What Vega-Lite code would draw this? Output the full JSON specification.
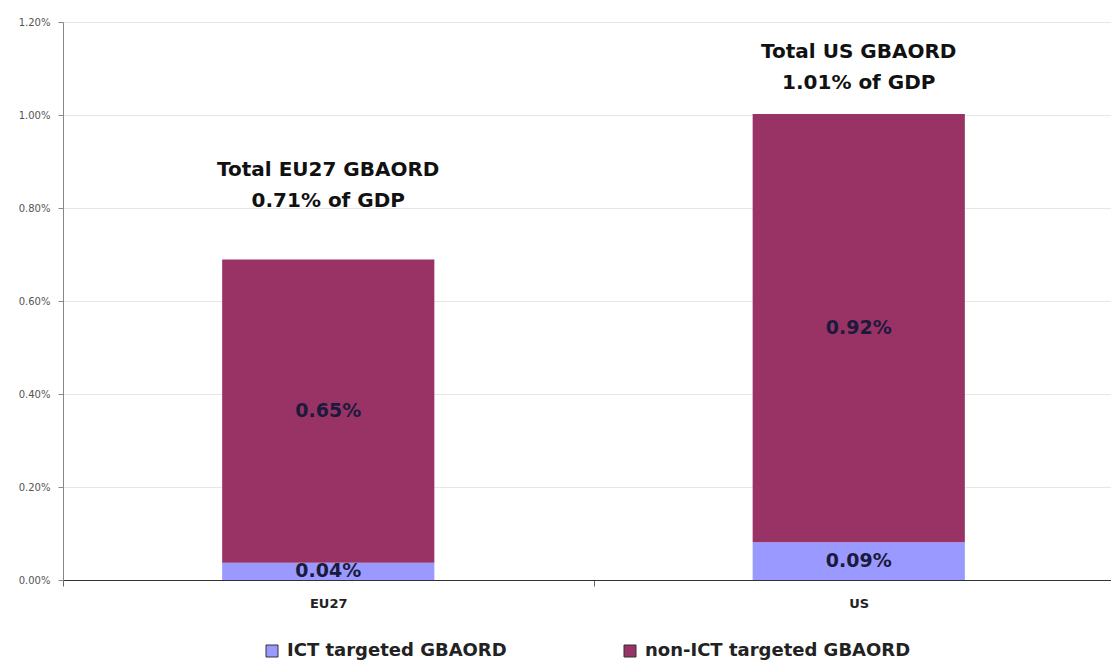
{
  "$schema": "https://vega.github.io/schema/vega-lite/v6.json",
  "width": 1048,
  "height": 558,
  "autosize": {"type": "none"},
  "padding": {"left": 63, "top": 22, "right": 0, "bottom": 82},
  "background": "white",
  "config": {
    "font": "DejaVu Sans",
    "view": {"stroke": null}
  },
  "datasets": {
    "bars": [
      {"region": "EU27", "type": "ICT targeted GBAORD", "value": 0.00037, "label": "0.04%", "order": 1},
      {"region": "EU27", "type": "non-ICT targeted GBAORD", "value": 0.00652, "label": "0.65%", "order": 2},
      {"region": "US", "type": "ICT targeted GBAORD", "value": 0.00081, "label": "0.09%", "order": 1},
      {"region": "US", "type": "non-ICT targeted GBAORD", "value": 0.00921, "label": "0.92%", "order": 2}
    ],
    "totals": [
      {"region": "EU27", "pos": 0.00882, "text": ["Total EU27 GBAORD", "0.71% of GDP"]},
      {"region": "US", "pos": 0.01135, "text": ["Total US GBAORD", "1.01% of GDP"]}
    ]
  },
  "layer": [
    {
      "data": {"name": "bars"},
      "mark": {"type": "bar", "width": {"band": 0.4}},
      "encoding": {
        "x": {
          "field": "region", "type": "nominal",
          "scale": {"paddingInner": 0, "paddingOuter": 0, "range": [0, 1061]},
          "axis": {
            "title": null, "labelAngle": 0, "labelFontSize": 13, "labelFontWeight": "bold",
            "labelColor": "#222", "labelPadding": 11, "tickBand": "extent", "tickSize": 6,
            "domainColor": "#333", "tickColor": "#666", "grid": false
          }
        },
        "y": {
          "field": "value", "type": "quantitative", "stack": "zero",
          "scale": {"domain": [0, 0.012]},
          "axis": {
            "title": null, "format": ".2%", "values": [0, 0.002, 0.004, 0.006, 0.008, 0.01, 0.012],
            "labelFontSize": 10, "labelColor": "#555", "tickSize": 5, "tickColor": "#888",
            "domainColor": "#888", "gridColor": "#e6e6e6", "labelPadding": 8
          }
        },
        "color": {
          "field": "type", "type": "nominal",
          "scale": {"domain": ["ICT targeted GBAORD", "non-ICT targeted GBAORD"], "range": ["#9999ff", "#993366"]},
          "legend": {
            "title": null, "orient": "none", "legendX": 200, "legendY": 620,
            "direction": "horizontal", "symbolType": "square", "symbolSize": 144,
            "symbolStrokeColor": "#333", "symbolStrokeWidth": 1,
            "labelFontSize": 18, "labelFontWeight": "bold", "labelColor": "#222",
            "columnPadding": 114, "labelOffset": 6, "labelLimit": 400
          }
        },
        "order": {"field": "order", "type": "quantitative"}
      }
    },
    {
      "data": {"name": "bars"},
      "transform": [
        {"stack": "value", "groupby": ["region"], "sort": [{"field": "order"}], "as": ["v0", "v1"]},
        {"calculate": "(datum.v0 + datum.v1) / 2", "as": "mid"}
      ],
      "mark": {"type": "text", "fontSize": 19, "fontWeight": "bold", "baseline": "middle"},
      "encoding": {
        "x": {"field": "region", "type": "nominal"},
        "y": {"field": "mid", "type": "quantitative"},
        "text": {"field": "label"},
        "color": {"value": "#1c1a3c"}
      }
    },
    {
      "data": {"name": "totals"},
      "mark": {"type": "text", "fontSize": 20, "fontWeight": "bold", "color": "#111", "baseline": "middle", "lineHeight": 31},
      "encoding": {
        "x": {"field": "region", "type": "nominal"},
        "y": {"field": "pos", "type": "quantitative"},
        "text": {"field": "text"}
      }
    }
  ]
}
